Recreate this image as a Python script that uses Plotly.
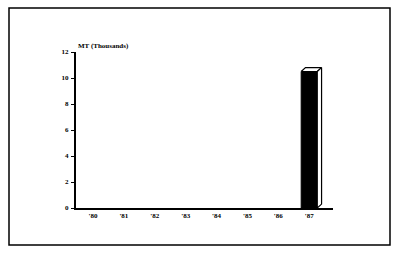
import plotly.graph_objects as go

years = ["'80", "'81", "'82", "'83", "'84", "'85", "'86", "'87"]
values = [0, 0, 0, 0, 0, 0, 0, 10.5]
y_ticks = [0, 2, 4, 6, 8, 10, 12]
y_title = "MT (Thousands)"

xs = list(range(len(years)))
bw = 0.52
dx = 0.14
dy = 0.3

fig = go.Figure()
fig.add_trace(go.Bar(x=xs, y=values, width=bw,
                     marker=dict(color="black", line=dict(color="black", width=[0 if v == 0 else 1 for v in values])),
                     showlegend=False, hoverinfo="skip"))

# 3D top and side faces for non-zero bars, derived from data
for x, v in zip(xs, values):
    if v <= 0:
        continue
    l, r = x - bw / 2, x + bw / 2
    fig.add_trace(go.Scatter(x=[l, l + dx, r + dx, r, l], y=[v, v + dy, v + dy, v, v], mode="lines",
                             fill="toself", fillcolor="white", line=dict(color="black", width=1.2),
                             showlegend=False, hoverinfo="skip"))
    fig.add_trace(go.Scatter(x=[r, r + dx, r + dx, r, r], y=[0, dy, v + dy, v, 0], mode="lines",
                             fill="toself", fillcolor="white", line=dict(color="black", width=1.2),
                             showlegend=False, hoverinfo="skip"))

font = dict(family="Liberation Serif", size=7, color="black", weight="bold")
fig.update_layout(
    width=400, height=254,
    margin=dict(l=76, r=67, t=52, b=46),
    paper_bgcolor="white", plot_bgcolor="white",
    xaxis=dict(range=[-0.55, 7.77], tickvals=xs, ticktext=years, showgrid=False, zeroline=False,
               showline=True, linecolor="black", linewidth=2, ticks="", tickfont=font),
    yaxis=dict(range=[0, 12], tickvals=y_ticks, showgrid=False, zeroline=False, showline=True,
               linecolor="black", linewidth=2, ticks="outside", ticklen=3, tickwidth=1,
               tickcolor="black", tickfont=font, ticklabelstandoff=1),
    annotations=[dict(text=y_title, xref="paper", yref="paper", x=0, y=1.0,
                      xanchor="left", yanchor="bottom", showarrow=False,
                      font=dict(family="Liberation Serif", size=7, color="black", weight="bold"))],
    shapes=[dict(type="rect", xref="paper", yref="paper", x0=-0.2607, x1=1.2218, y0=-0.237, y1=1.282,
                 line=dict(color="black", width=1.5))],
)
fig.write_html("out.html")
